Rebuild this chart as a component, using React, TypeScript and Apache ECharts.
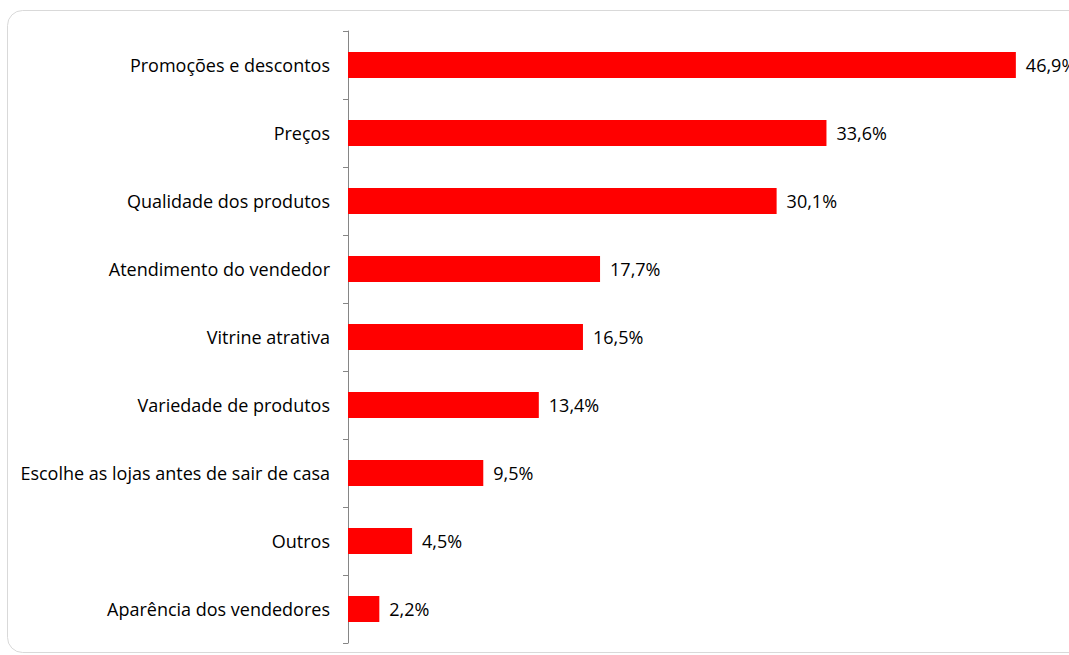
import React, { useEffect, useRef } from "react";
import * as echarts from "echarts";

const categories = [
  "Promoções e descontos",
  "Preços",
  "Qualidade dos produtos",
  "Atendimento do vendedor",
  "Vitrine atrativa",
  "Variedade de produtos",
  "Escolhe as lojas antes de sair de casa",
  "Outros",
  "Aparência dos vendedores",
];
const values = [46.9, 33.6, 30.1, 17.7, 16.5, 13.4, 9.5, 4.5, 2.2];

const FONT = "Open Sans";

export default function App() {
  const ref = useRef<HTMLDivElement>(null);
  useEffect(() => {
    const chart = echarts.init(ref.current!, null, { renderer: "svg" });
    chart.setOption({
      animation: false,
      textStyle: { fontFamily: FONT },
      graphic: [
        {
          type: "rect",
          shape: { x: 7.5, y: 10.5, width: 1100, height: 642, r: 15 },
          style: { fill: "none", stroke: "#d9d9d9", lineWidth: 1 },
          silent: true,
        },
      ],
      grid: { left: 348, top: 31, bottom: 12, width: 712, containLabel: false },
      xAxis: { type: "value", min: 0, max: 50, show: false },
      yAxis: {
        type: "category",
        data: categories,
        inverse: true,
        axisLine: { show: true, lineStyle: { color: "#868686", width: 1 } },
        axisTick: { show: true, length: 5, lineStyle: { color: "#868686" } },
        axisLabel: { margin: 18, color: "#000000", fontSize: 18, fontFamily: FONT },
        splitLine: { show: false },
      },
      series: [
        {
          type: "bar",
          data: values,
          barWidth: 26,
          itemStyle: { color: "#ff0000" },
          label: {
            show: true,
            position: "right",
            distance: 10,
            color: "#000000",
            fontSize: 18,
            fontFamily: FONT,
            formatter: (p: any) => p.value.toFixed(1).replace(".", ",") + "%",
          },
        },
      ],
    });
    return () => chart.dispose();
  }, []);
  return (
    <div
      ref={ref}
      style={{ position: "absolute", left: 0, top: 0, width: 1069, height: 655, background: "#fff" }}
    />
  );
}
